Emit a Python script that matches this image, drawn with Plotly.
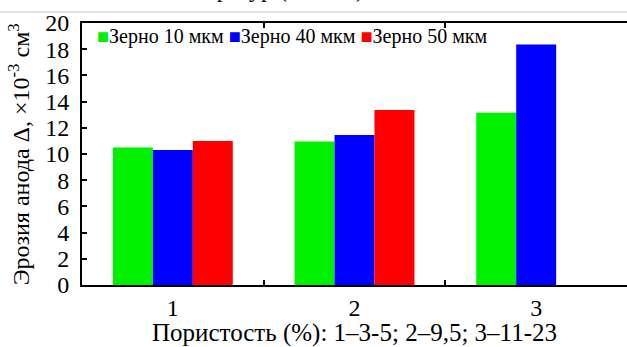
import plotly.graph_objects as go

# Porosity groups and anode erosion, x10^-3 cm^3
categories = ["1", "2", "3"]
series_names = ["Зерно 10 мкм", "Зерно 40 мкм", "Зерно 50 мкм"]
grain_10 = [10.5, 10.95, 13.15]
grain_40 = [10.3, 11.45, 18.35]
grain_50 = [11.0, 13.35, None]
colors = ["#00f000", "#0000ff", "#ff0000"]
y_ticks = list(range(0, 21, 2))

FONT = "Liberation Serif"

fig = go.Figure()
for name, vals, col in zip(series_names, [grain_10, grain_40, grain_50], colors):
    fig.add_trace(go.Bar(
        x=categories, y=vals, name=name,
        marker=dict(color=col, line=dict(width=0)),
        showlegend=False,
    ))

# legend row drawn as a single line of text with coloured squares
legend_text = " ".join(
    f"<span style='color:{c}'>■</span>{n}" for n, c in zip(series_names, colors)
)
fig.add_annotation(
    xref="paper", yref="paper", x=0.024, y=0.947,
    xanchor="left", yanchor="middle", showarrow=False,
    text=legend_text, font=dict(family=FONT, size=20, color="black"),
)

# vertical axis title
fig.add_annotation(
    xref="paper", yref="paper", x=-0.115, y=0.5,
    xanchor="center", yanchor="middle", showarrow=False, textangle=-90,
    text="Эрозия анода Δ, ×10<sup>-3</sup> см<sup>3</sup>",
    font=dict(family=FONT, size=24, color="black"),
)

# running text of the page above the chart
fig.add_annotation(
    xref="paper", yref="paper", x=0.134, y=1.072,
    xanchor="left", yanchor="bottom", showarrow=False,
    text="температур (табл. 2)", font=dict(family=FONT, size=24, color="black"),
)
fig.add_shape(
    type="line", xref="paper", yref="paper",
    x0=-0.2, x1=1.05, y0=1.042, y1=1.042,
    line=dict(color="#c8c8c8", width=1),
)

fig.update_layout(
    width=627, height=347,
    margin=dict(l=82, r=0, t=23, b=62),
    paper_bgcolor="white", plot_bgcolor="white",
    barmode="group", bargap=0.34, bargroupgap=0,
    font=dict(family=FONT, size=24, color="black"),
    xaxis=dict(
        type="category", tickson="boundaries",
        range=[-0.5, 2.5],
        showline=True, linecolor="black", linewidth=2, mirror="ticks",
        ticks="inside", ticklen=5, tickwidth=1.5, tickcolor="black",
        showgrid=False, zeroline=False,
        tickfont=dict(family=FONT, size=24),
        title=dict(text="Пористость (%): 1–3-5; 2–9,5; 3–11-23",
                   font=dict(family=FONT, size=25), standoff=2),
    ),
    yaxis=dict(
        range=[0, 20], tickvals=y_ticks,
        showline=True, linecolor="black", linewidth=2,
        ticks="inside", ticklen=5, tickwidth=1.5, tickcolor="black",
        showgrid=False, zeroline=False,
        tickfont=dict(family=FONT, size=24),
        ticklabelstandoff=6,
    ),
    yaxis2=dict(
        overlaying="y", side="right", range=[0, 20], tickvals=y_ticks,
        showline=False, showticklabels=False, showgrid=False, zeroline=False,
        ticks="inside", ticklen=5, tickwidth=1.5, tickcolor="black",
    ),
)

fig.write_html("out.html")
